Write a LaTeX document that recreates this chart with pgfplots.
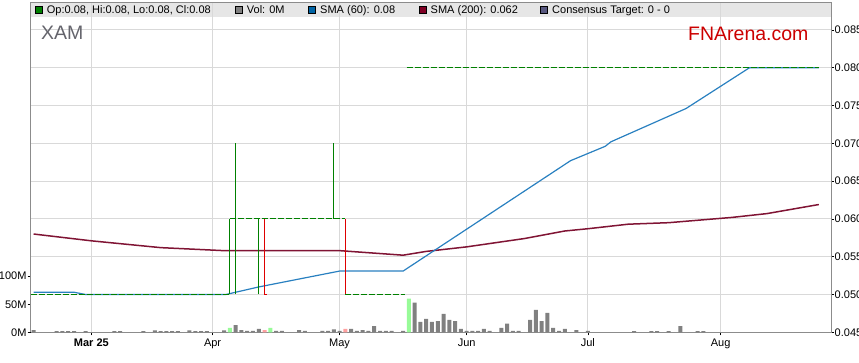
\documentclass[border=0pt]{standalone}
\usepackage{fontspec}
\setmainfont{Liberation Sans}
\usepackage{pgfplots}
\usepackage{pgfplotstable}
\pgfplotsset{compat=1.18}

\definecolor{gridc}{RGB}{217,217,217}
\definecolor{framec}{RGB}{140,140,140}
\definecolor{bandc}{RGB}{230,230,230}
\definecolor{upg}{RGB}{0,128,0}
\definecolor{dnr}{RGB}{222,0,0}
\definecolor{smab}{RGB}{41,128,192}
\definecolor{smam}{RGB}{128,20,52}
\definecolor{volg}{RGB}{128,128,128}
\definecolor{volup}{RGB}{152,251,152}
\definecolor{voldn}{RGB}{255,160,160}
\definecolor{xamc}{RGB}{100,100,108}
\definecolor{fnc}{RGB}{204,0,0}
\definecolor{legb}{RGB}{0,100,165}
\definecolor{legm}{RGB}{128,0,36}
\definecolor{legc}{RGB}{88,88,128}

\newcommand\sfont{\fontsize{11bp}{13bp}\selectfont}

% volume in millions, weekday index (0 = 3 Mar 2025)
\pgfplotstableread{
idx vol
-10 4
-6 2
-5 2
-4 2
-3 2
-1 2
4 2
5 2
9 2
11 3.5
12 2
13 2
14 2
15 2
17 3.5
18 2
19 2
20 2
23 3.5
25 13
26 4
27 2.5
28 2.5
29 6
32 2.5
33 2.5
36 4
37 2.5
40 2.5
41 2.5
42 5
43 2.5
45 6
46 2.5
47 4
48 2.5
49 11
50 2.5
51 2.5
52 2.5
54 2.5
56 53
57 18.5
58 24
59 18.5
60 20
61 33
62 22
63 20
64 6
65 2.5
66 2.5
67 2.5
68 6
69 2.5
71 7.7
72 15.5
73 2.5
74 2.5
76 22
77 40
78 20
79 34.5
80 7.7
81 2.5
82 6
84 4
86 2.5
94 2
97 2
98 2
100 2
102 11
105 2
106 2
}\volgray
\pgfplotstableread{
idx vol
24 7.7
31 7.7
55 60
}\volup
\pgfplotstableread{
idx vol
30 4
44 6
}\voldn
\pgfplotstableread{
idx sma
-10 0.0503
-3 0.0503
-1 0.0500
23.3 0.0500
29 0.0510
43 0.0531
54 0.0531
83 0.0677
89 0.0696
90 0.0702
103 0.0746
114 0.0800
126 0.0800
}\smasixty
\pgfplotstableread{
idx sma
-10 0.0580
0 0.0571
12 0.0562
23 0.0558
43 0.0558
54 0.0552
58 0.0557
65 0.0563
75 0.0574
82 0.0584
86 0.0587
93 0.0593
100 0.0595
111 0.0602
117 0.0607
126 0.0619
}\smatwohundred

\begin{document}
\begin{tikzpicture}
\path[use as bounding box] (0,0) rectangle (859bp,363bp);
\fill[bandc] (30.7bp,346.3bp) rectangle (831bp,360.3bp);

\begin{axis}[
  at={(30.7bp,30.7bp)}, anchor=south west, scale only axis,
  width=800.3bp, height=329.6bp,
  xmin=-10.5, xmax=128.11,
  ymin=0.045, ymax=0.088598,
  axis line style={framec, line width=0.8bp},
  xtick={0,21,43,65,86,109},
  xticklabels={\textbf{Mar 25},Apr,May,Jun,Jul,Aug},
  ytick={0.045,0.050,0.055,0.060,0.065,0.070,0.075,0.080,0.085},
  scaled y ticks=false,
  yticklabel pos=right,
  xtick pos=lower, ytick pos=right,
  /pgf/number format/fixed, /pgf/number format/fixed zerofill,
  /pgf/number format/precision=3, /pgf/number format/assume math mode=true,
  yticklabel style={font=\sfont, anchor=west, inner sep=0pt},
  xticklabel style={font=\sfont, anchor=north, inner sep=0pt},
  yticklabel shift=0.5bp, xticklabel shift=3bp,
  tick align=outside, major tick length=3bp,
  tick style={black, line width=0.6bp},
  grid=major, major grid style={gridc, line width=0.8bp},
]
% moving averages
\addplot[smam, line width=1.5bp] table[x=idx, y=sma] {\smatwohundred};
\addplot[smab, line width=1.2bp] table[x=idx, y=sma] {\smasixty};
% close-price segments
\addplot[upg, line width=1.1bp, dash pattern=on 6bp off 2bp] coordinates {(-10.5,0.05) (24,0.05)};
\addplot[upg, line width=1.1bp, dash pattern=on 6bp off 2bp] coordinates {(24,0.06) (44,0.06)};
\addplot[upg, line width=1.1bp, dash pattern=on 6bp off 2bp] coordinates {(44,0.05) (54.4,0.05)};
\addplot[upg, line width=1.1bp, dash pattern=on 6bp off 2bp] coordinates {(54.6,0.08) (126,0.08)};
% high-low bars
\addplot[upg, line width=1.1bp] coordinates {(24,0.05) (24,0.06)};
\addplot[upg, line width=1.1bp] coordinates {(25,0.05) (25,0.07)};
\addplot[upg, line width=1.1bp] coordinates {(29,0.05) (29,0.06)};
\addplot[dnr, line width=1.1bp] coordinates {(30,0.06) (30,0.05) (30.45,0.05)};
\addplot[upg, line width=1.1bp] coordinates {(42,0.06) (42,0.07)};
\addplot[dnr, line width=1.1bp] coordinates {(44,0.06) (44,0.05)};
\end{axis}

\begin{axis}[
  at={(30.7bp,30.7bp)}, anchor=south west, scale only axis,
  width=800.3bp, height=329.6bp,
  xmin=-10.5, xmax=128.11,
  ymin=0, ymax=587,
  axis x line=none, axis y line*=left,
  y axis line style={framec, line width=0.8bp},
  ytick={0,50,100}, yticklabels={0M,50M,100M},
  yticklabel style={font=\sfont, anchor=east, inner sep=0pt},
  yticklabel shift=1bp,
  tick align=outside, major tick length=3bp,
  tick style={black, line width=0.6bp},
]
\addplot[ybar, bar width=4bp, bar shift=0pt, fill=volg, draw=none] table[x=idx, y=vol] {\volgray};
\addplot[ybar, bar width=4bp, bar shift=0pt, fill=volup, draw=none] table[x=idx, y=vol] {\volup};
\addplot[ybar, bar width=4bp, bar shift=0pt, fill=voldn, draw=none] table[x=idx, y=vol] {\voldn};
\end{axis}

% legend band contents
\filldraw[fill=upg, draw=black, line width=0.5bp] (35.7bp,349.3bp) rectangle (42.7bp,356.3bp);
\node[anchor=base west, inner sep=0pt, font=\sfont] at (46.7bp,349bp) {Op:0.08, Hi:0.08, Lo:0.08, Cl:0.08};
\filldraw[fill=volg, draw=black, line width=0.5bp] (235.7bp,349.3bp) rectangle (242.7bp,356.3bp);
\node[anchor=base west, inner sep=0pt, font=\sfont] at (246.7bp,349bp) {Vol: 0M};
\filldraw[fill=legb, draw=black, line width=0.5bp] (308.3bp,349.3bp) rectangle (315.3bp,356.3bp);
\node[anchor=base west, inner sep=0pt, font=\sfont] at (320bp,349bp) {SMA (60): 0.08};
\filldraw[fill=legm, draw=black, line width=0.5bp] (419bp,349.3bp) rectangle (426bp,356.3bp);
\node[anchor=base west, inner sep=0pt, font=\sfont] at (430.5bp,349bp) {SMA (200): 0.062};
\filldraw[fill=legc, draw=black, line width=0.5bp] (540bp,349.3bp) rectangle (547bp,356.3bp);
\node[anchor=base west, inner sep=0pt, font=\sfont] at (552bp,349bp) {Consensus Target: 0 - 0};

% watermarks
\node[anchor=base west, inner sep=0pt, text=xamc, font=\fontsize{19.5bp}{22bp}\selectfont] at (41bp,323bp) {XAM};
\node[anchor=base west, inner sep=0pt, text=fnc, font=\fontsize{19.5bp}{22bp}\selectfont] at (688bp,322.5bp) {FNArena.com};
\end{tikzpicture}
\end{document}
